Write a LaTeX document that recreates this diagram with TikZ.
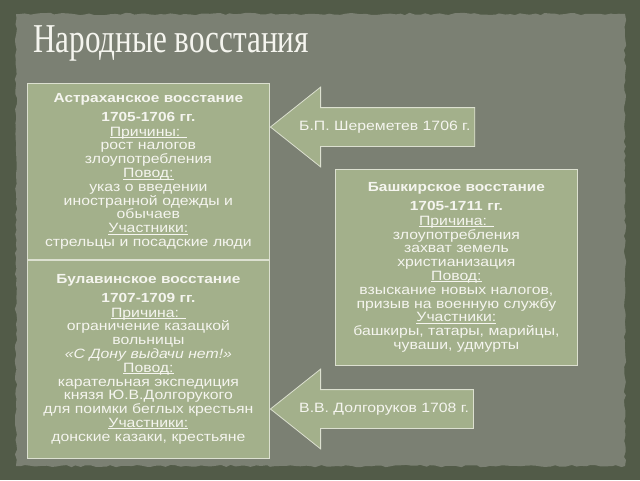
\documentclass[tikz,border=0pt]{standalone}
\usepackage{fontspec}
\setmainfont{Liberation Sans}[FakeStretch=1.17]
\newfontfamily\titlefont{Liberation Serif}[FakeStretch=0.76]
\usetikzlibrary{shapes.arrows,decorations.pathmorphing}

\definecolor{frame}{HTML}{525B48}
\definecolor{panel}{HTML}{7B8073}
\definecolor{sage}{HTML}{A3B08B}
\definecolor{edge}{HTML}{DCE0D0}
\definecolor{chalk}{HTML}{F5F5EF}

\tikzset{
  uprising/.style={draw=edge, line width=0.8pt, fill=sage, text=chalk,
    text width=238pt, align=center, inner sep=0pt, minimum width=242pt,
    anchor=north west, font=\fontsize{13.5}{13.8}\selectfont},
  leader/.style={single arrow, shape border rotate=180, draw=edge,
    line width=0.8pt, fill=sage, text=chalk, minimum height=202pt,
    single arrow head extend=20.5pt, single arrow tip angle=77,
    text height=9pt, text depth=3pt, inner ysep=13pt, inner xsep=4pt,
    anchor=tip, font=\fontsize{13.5}{14}\selectfont}
}
\newcommand{\hdr}[2]{{\fontsize{13.2}{13.8}\selectfont\bfseries #1}\\[5pt]%
  {\fontsize{13.2}{13.8}\selectfont\bfseries #2}\\[1pt]}
\newcommand{\lbl}[1]{\leavevmode\setbox0\hbox{#1}\rlap{\rule[-1.6pt]{\wd0}{0.6pt}}\box0}

\begin{document}
\begin{tikzpicture}[x=1pt,y=-1pt]
\useasboundingbox (0,0) rectangle (640,480);
\fill[frame] (0,0) rectangle (640,480);
\fill[panel, decorate, decoration={random steps,segment length=5pt,amplitude=1.2pt}]
  (16,14) rectangle (625,466);

\node[anchor=base west, text=chalk, inner sep=0pt,
  font=\titlefont\fontsize{41}{41}\selectfont] (title) at (33,52) {Народные восстания};

% left column
\node[uprising, minimum height=176pt] (astr) at (27,83) {%
  \hdr{Астраханское восстание}{1705-1706 гг.}
  \lbl{Причины: }\\ рост налогов\\ злоупотребления\\ \lbl{Повод:}\\
  указ о введении\\ иностранной одежды и\\ обычаев\\ \lbl{Участники:}\\
  стрельцы и посадские люди};
\node[uprising, minimum height=198pt] (bulav) at (astr.south west) {%
  \hdr{Булавинское восстание}{1707-1709 гг.}
  \lbl{Причина: }\\ ограничение казацкой\\ вольницы\\
  \textit{«С Дону выдачи нет!»}\\ \lbl{Повод:}\\
  карательная экспедиция\\ князя Ю.В.Долгорукого\\ для поимки беглых крестьян\\
  \lbl{Участники:}\\ донские казаки, крестьяне};

% right column
\node[uprising, minimum height=196pt] (bashk) at (335,169) {%
  \hdr{Башкирское восстание}{1705-1711 гг.}
  \lbl{Причина: }\\ злоупотребления\\ захват земель\\ христианизация\\
  \lbl{Повод:}\\ взыскание новых налогов,\\ призыв на военную службу\\
  \lbl{Участники:}\\ башкиры, татары, марийцы,\\ чуваши, удмурты};

% arrows
\node[leader] (sherem) at (astr.east |- 0,127) {Б.П. Шереметев 1706 г.};
\node[leader] (dolg) at (bulav.east |- 0,409) {В.В. Долгоруков 1708 г.};
\end{tikzpicture}
\end{document}
